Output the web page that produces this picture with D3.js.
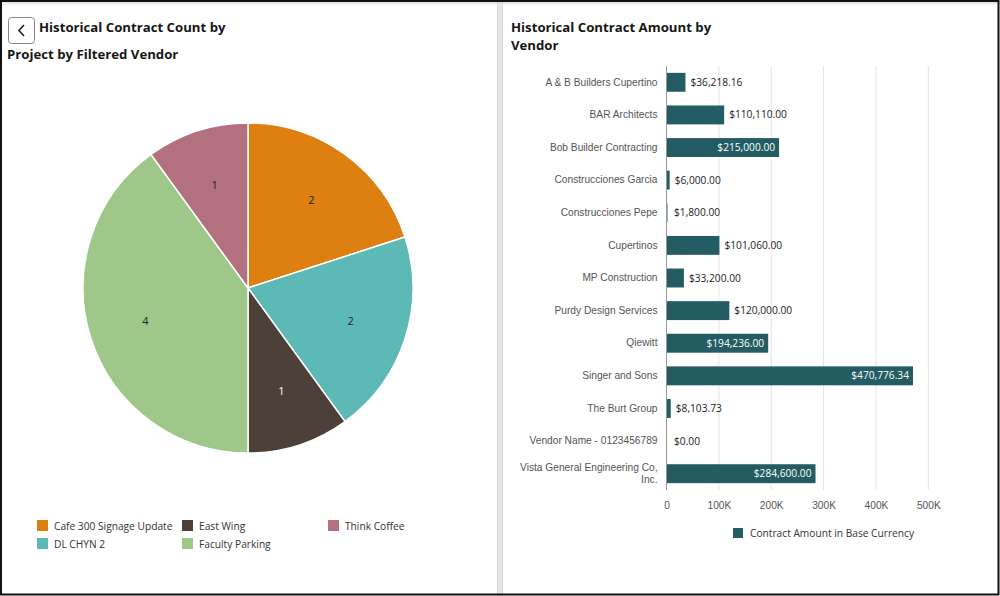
<!DOCTYPE html>
<html>
<head>
<meta charset="utf-8">
<script src="https://cdn.jsdelivr.net/npm/d3@7"></script>
<style>
  body { margin: 0; background: #fff; }
  svg { display: block; font-family: "Open Sans", "Noto Sans", sans-serif; }
</style>
</head>
<body>
<div id="chart"></div>
<script>
// pie data
var projects = ['Cafe 300 Signage Update', 'DL CHYN 2', 'East Wing', 'Faculty Parking', 'Think Coffee'];
var projectCounts = [2, 2, 1, 4, 1];
var projectColors = ['#de7f12', '#5cb9b5', '#4c4038', '#a0c78a', '#b37180'];

// bar data
var vendors = ['A & B Builders Cupertino', 'BAR Architects', 'Bob Builder Contracting', 'Construcciones Garcia',
  'Construcciones Pepe', 'Cupertinos', 'MP Construction', 'Purdy Design Services', 'Qiewitt',
  'Singer and Sons', 'The Burt Group', 'Vendor Name - 0123456789', 'Vista General Engineering Co, Inc.'];
var amounts = [36218.16, 110110, 215000, 6000, 1800, 101060, 33200, 120000, 194236, 470776.34, 8103.73, 0, 284600];
var xTicks = [0, 100000, 200000, 300000, 400000, 500000];

var svg = d3.select('#chart').append('svg').attr('width', 1000).attr('height', 596);

// panels and frame
svg.append('rect').attr('x', 0).attr('y', 0).attr('width', 1000).attr('height', 596).attr('fill', '#fff');
svg.append('rect').attr('x', 497).attr('y', 0).attr('width', 6).attr('height', 596).attr('fill', '#e6e6e6');
svg.append('line').attr('x1', 497.5).attr('x2', 497.5).attr('y1', 0).attr('y2', 596).attr('stroke', '#d8d8d8');
svg.append('line').attr('x1', 502.5).attr('x2', 502.5).attr('y1', 0).attr('y2', 596).attr('stroke', '#d8d8d8');
var shadow = svg.append('defs').append('linearGradient').attr('id', 'sh').attr('x1', 0).attr('x2', 0).attr('y1', 0).attr('y2', 1);
shadow.append('stop').attr('offset', 0).attr('stop-color', '#ccc');
shadow.append('stop').attr('offset', 1).attr('stop-color', '#fff').attr('stop-opacity', 0);
svg.append('rect').attr('x', 0).attr('y', 1).attr('width', 1000).attr('height', 6).attr('fill', 'url(#sh)');
svg.append('rect').attr('x', 1).attr('y', 1).attr('width', 997.5).attr('height', 593.5)
  .attr('fill', 'none').attr('stroke', '#111').attr('stroke-width', 2);

// ---- left: pie ----
svg.append('rect').attr('x', 8.5).attr('y', 17.5).attr('width', 26).attr('height', 26).attr('rx', 3)
  .attr('fill', '#fff').attr('stroke', '#888');
svg.append('path').attr('d', 'M24,25 L19,30.5 L24,36').attr('fill', 'none').attr('stroke', '#222').attr('stroke-width', 1.6);

var title = svg.append('g').attr('font-weight', 'bold').attr('font-size', 13.2).attr('fill', '#161616');
title.append('text').attr('x', 39).attr('y', 32).text('Historical Contract Count by');
title.append('text').attr('x', 7).attr('y', 59).text('Project by Filtered Vendor');

var pieData = d3.pie().sort(null)(projectCounts);
var arc = d3.arc().innerRadius(0).outerRadius(165);
var labelArc = d3.arc().innerRadius(108).outerRadius(108);
var pieG = svg.append('g').attr('transform', 'translate(248,288)');
pieG.selectAll('path').data(pieData).enter().append('path')
  .attr('d', arc)
  .attr('fill', (d, i) => projectColors[i])
  .attr('stroke', '#fff').attr('stroke-width', 1.5);
pieG.selectAll('text').data(pieData).enter().append('text')
  .attr('transform', d => 'translate(' + labelArc.centroid(d) + ')')
  .attr('text-anchor', 'middle').attr('dy', '0.35em')
  .attr('font-size', 11)
  .attr('fill', (d, i) => i == 2 ? '#fff' : '#222')
  .text(d => d.data);

var legCols = [37, 182, 328];
var leg = svg.append('g');
projects.forEach(function (p, i) {
  var x = legCols[Math.floor(i / 2)];
  var y = 520 + (i % 2) * 18;
  leg.append('rect').attr('x', x).attr('y', y).attr('width', 11).attr('height', 11).attr('fill', projectColors[i]);
  leg.append('text').attr('x', x + 17).attr('y', y + 9.5).attr('font-size', 10.2).attr('fill', '#333').text(p);
});

// ---- right: bars ----
var title2 = svg.append('g').attr('font-weight', 'bold').attr('font-size', 13.2).attr('fill', '#161616');
title2.append('text').attr('x', 511).attr('y', 32).text('Historical Contract Amount by');
title2.append('text').attr('x', 511).attr('y', 50).text('Vendor');

var x = d3.scaleLinear().domain([0, 500000]).range([666.5, 928.3]);
var y = d3.scaleBand().domain(vendors).range([66, 490]).paddingInner(0.42).paddingOuter(0.21);

var grid = svg.append('g');
grid.selectAll('line').data(xTicks.slice(1)).enter().append('line')
  .attr('x1', d => x(d)).attr('x2', d => x(d)).attr('y1', 66).attr('y2', 490)
  .attr('stroke', '#e4e4e4');

svg.append('g').selectAll('rect').data(amounts).enter().append('rect')
  .attr('x', x(0)).attr('y', (d, i) => y(vendors[i]))
  .attr('width', d => x(d) - x(0)).attr('height', y.bandwidth())
  .attr('fill', '#235c62');

svg.append('line').attr('x1', 666.5).attr('x2', 666.5).attr('y1', 66).attr('y2', 490).attr('stroke', '#999');

var fmt = d3.format('$,.2f');
svg.append('g').selectAll('text').data(amounts).enter().append('text')
  .attr('y', (d, i) => y(vendors[i]) + y.bandwidth() / 2)
  .attr('dy', '0.35em').attr('font-size', 10.2)
  .each(function (d) {
    var t = d3.select(this);
    if (d > 180000) {
      t.attr('x', x(d) - 4).attr('text-anchor', 'end').attr('fill', '#fff');
    } else {
      t.attr('x', Math.max(x(d), 669) + 5).attr('text-anchor', 'start').attr('fill', '#222');
    }
  })
  .text(d => fmt(d));

var yAxis = svg.append('g').attr('transform', 'translate(666.5,0)')
  .call(d3.axisLeft(y).tickSize(0).tickPadding(9));
yAxis.select('.domain').remove();
yAxis.selectAll('text').attr('font-size', 10.2).attr('fill', '#555').attr('font-family', null)
  .each(function (d) {
    if (d.indexOf('Co, Inc.') >= 0) {
      var t = d3.select(this).text(null);
      t.append('tspan').attr('x', -9).attr('dy', '-0.25em').text('Vista General Engineering Co,');
      t.append('tspan').attr('x', -9).attr('dy', '1.2em').text('Inc.');
    }
  });

var xAxis = svg.append('g').attr('transform', 'translate(0,490)')
  .call(d3.axisBottom(x).tickValues(xTicks).tickSize(0).tickPadding(12)
    .tickFormat(d => d == 0 ? '0' : d3.format('d')(d / 1000) + 'K'));
xAxis.select('.domain').remove();
xAxis.selectAll('text').attr('font-size', 10.2).attr('fill', '#555').attr('font-family', null);

svg.append('rect').attr('x', 733).attr('y', 528).attr('width', 10).attr('height', 10).attr('fill', '#235c62');
svg.append('text').attr('x', 750).attr('y', 537).attr('font-size', 10.2).attr('fill', '#333')
  .text('Contract Amount in Base Currency');
</script>
</body>
</html>
